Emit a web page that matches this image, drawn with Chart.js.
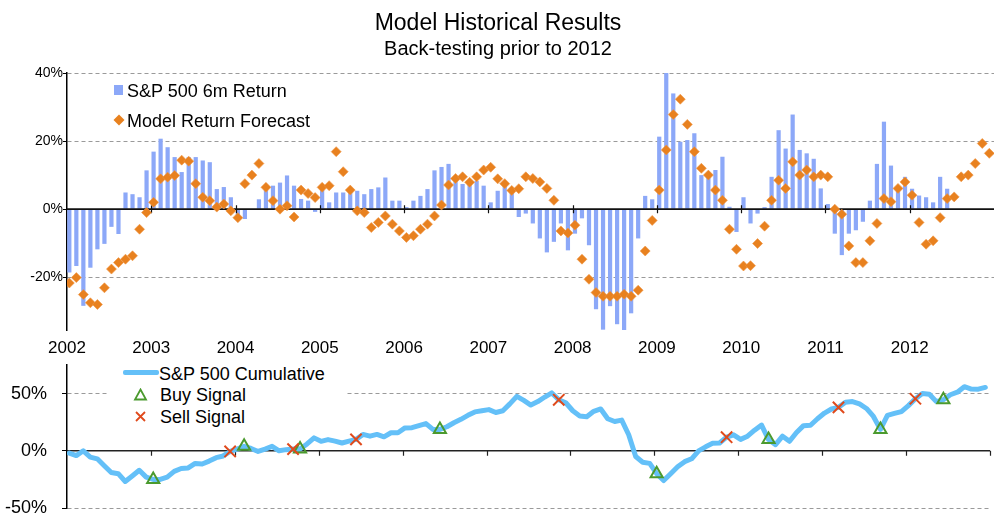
<!DOCTYPE html>
<html>
<head>
<meta charset="utf-8">
<script src="https://cdn.jsdelivr.net/npm/chart.js@4.4.1/dist/chart.umd.min.js"></script>
<style>
  body { margin: 0; background: #fff; font-family: "Liberation Sans", Arial, sans-serif; color: #000; }
  #wrap { position: relative; width: 1000px; height: 526px; overflow: hidden; }
  canvas { position: absolute; left: 0; display: block; }
  #topChart { top: 0; }
  #bottomChart { top: 355px; }
  .txt { position: absolute; white-space: nowrap; line-height: 1; }
  .title { font-size: 23px; left: 0; width: 996px; text-align: center; }
  .sub { font-size: 20px; left: 0; width: 996px; text-align: center; }
  .leg { font-size: 18px; }
  .box { position: absolute; background: #fff; }
</style>
</head>
<body>
<div id="wrap">
  <canvas id="topChart" width="1000" height="355"></canvas>
  <canvas id="bottomChart" width="1000" height="171"></canvas>

  <div class="txt title" style="top:11px">Model Historical Results</div>
  <div class="txt sub" style="top:38px">Back-testing prior to 2012</div>

  <!-- top legend -->
  <div class="box" style="left:114px; top:85px; width:9px; height:10px; background:#8ca8f8"></div>
  <div class="txt leg" style="left:127px; top:82px">S&amp;P 500 6m Return</div>
  <svg style="position:absolute; left:113px; top:114px" width="12" height="12"><polygon points="6,0.5 11.5,6 6,11.5 0.5,6" fill="#e8811f"/></svg>
  <div class="txt leg" style="left:127px; top:112px">Model Return Forecast</div>

  <!-- bottom legend -->
  <div class="box" style="left:108px; top:362px; width:239px; height:66px"></div>
  <div class="box" style="left:123px; top:370px; width:36px; height:5px; background:#64c0f8; border-radius:2px"></div>
  <div class="txt leg" style="left:159px; top:365px">S&amp;P 500 Cumulative</div>
  <svg style="position:absolute; left:133px; top:388px" width="15" height="14"><polygon points="7.5,1.5 13,11.5 2,11.5" fill="none" stroke="#4b9a2e" stroke-width="1.8"/></svg>
  <div class="txt leg" style="left:160px; top:386px">Buy Signal</div>
  <svg style="position:absolute; left:134px; top:410px" width="13" height="13"><path d="M2,2 L11,11 M11,2 L2,11" stroke="#e04a1c" stroke-width="1.8"/></svg>
  <div class="txt leg" style="left:160px; top:408px">Sell Signal</div>
</div>

<script>
// x axis: one slot per month, Jan 2002 = month 0
const yearLabels = ["2002", "2003", "2004", "2005", "2006", "2007", "2008", "2009", "2010", "2011", "2012"];
const yearStarts = [0, 12, 24, 36, 48, 60, 72, 84, 96, 108, 120, 132];

// S&P 500 6 month return (%), Jan 2002 .. Jun 2012
const sp6mReturn = [
  -18.6, -16.7, -28.4, -17.2, -11.8, -10.2, -5.2, -7.3, 4.9, 4.4, 3.5, 11.4,
  16.9, 20.7, 18.2, 15.3, 10.9, 15.3, 15.3, 14.3, 13.8, 5.9, 6.5, 3.5,
  -2.0, -2.9, 0, 2.9, 6.9, 6.9, 7.8, 9.9, 6.9, 3.0, 2.5, -0.8,
  6.1, 2.0, 4.9, 4.9, 5.1, 5.4, 4.4, 5.9, 6.4, 9.3, 2.5, 2.5,
  0.6, 2.5, 3.9, 5.9, 11.4, 12.4, 13.3, 8.3, 7.4, 8.3, 8.3, 6.9,
  2.0, 5.4, 6.9, 5.4, -2.3, -1.3, -4.2, -8.6, -12.7, -9.6, -4.2, -12.1,
  -7.2, -2.7, -10.6, -29.4, -35.4, -28.5, -33.8, -35.6, -30.6, -8.6, 3.9, 2.9,
  21.3, 40.2, 34.0, 19.8, 20.3, 22.3, 10.0, 9.5, 11.5, 15.4, 0.7, -6.7,
  3.5, -4.2, -1.3, 0.6, 9.5, 23.2, 17.8, 27.8, 17.4, 16.4, 14.8, 6.1,
  1.5, -7.2, -13.5, -7.2, -6.2, -3.7, 2.5, 13.3, 25.7, 12.8, 6.6, 9.5,
  6.0, 4.0, 3.5, 2.0, 9.5, 6.0
];

// Model return forecast (%), Jan 2002 .. Dec 2012
const modelForecast = [
  -21.7, -20.1, -25.1, -27.5, -28.0, -23.1, -17.6, -15.7, -14.7, -13.7, -5.9, -1.0,
  2.0, 8.9, 9.4, 9.9, 14.4, 14.1, 7.5, 3.5, 2.5, 0.6, 1.5, -0.5,
  -2.5, 7.5, 10.0, 13.4, 6.4, 2.5, 0, 1.0, -2.3, 5.6, 4.6, 3.4,
  6.4, 6.9, 16.9, 11.0, 5.6, -0.5, -1.0, -5.4, -3.9, -2.0, -4.4, -6.4,
  -8.3, -7.8, -5.9, -4.4, -2.0, 1.2, 7.1, 9.0, 9.5, 7.9, 9.5, 11.5,
  12.3, 8.9, 7.5, 5.5, 6.0, 9.5, 9.0, 8.0, 6.1, 2.6, -6.4, -7.0,
  -4.7, -14.7, -20.6, -24.5, -25.6, -25.6, -25.6, -25.0, -25.6, -23.8, -12.3, -3.3,
  5.6, 17.4, 27.8, 32.3, 24.9, 16.9, 12.0, 10.0, 5.6, 2.6, -5.9, -11.8,
  -16.7, -16.6, -10.1, -5.0, 2.6, 8.5, 6.1, 13.9, 10.0, 11.5, 9.5, 10.0,
  9.5, 0, -1.5, -10.8, -15.7, -15.7, -9.3, -4.2, 3.1, 2.2, 6.1, 8.0,
  4.1, -3.9, -10.3, -9.3, -2.5, 3.1, 3.6, 9.5, 10.0, 13.4, 19.3, 16.4
];

// S&P 500 cumulative return (%), Jan 2002 .. Dec 2012
const sp500Cumulative = [
  -2, -4.2, 0, -5.5, -7, -13, -19, -20, -26.8, -22, -17, -23,
  -25, -25, -23, -18, -15.5, -15, -11, -11.5, -9, -6, -4.5, -0.6,
  1.5, 3.9, 2, -0.6, 1.5, 3.9, 0, 1, 1.5, 1.5, 6, 11.3,
  8.3, 9.8, 8.5, 6.8, 8.5, 10, 14.3, 12.8, 14.3, 12.2, 15.8, 15.8,
  20, 20.2, 22, 23.8, 18.7, 18.7, 21, 24.5, 27.5, 31, 34, 35,
  36, 33.5, 35, 41, 47.6, 44, 40, 43, 47, 50.6, 44.6, 42,
  35, 30.5, 29.8, 34.5, 36.6, 28, 25.6, 26.8, 14, -5, -10, -11,
  -20, -26, -20, -14, -9.5, -7, 0, 3.5, 6.5, 6.8, 11.9, 14,
  10, 12.8, 18, 22.5, 9.8, 5.4, 12.8, 8.3, 16, 22, 22.3, 28,
  33, 36.5, 38, 42.5, 43, 41, 37, 30, 18.7, 31, 32.7, 34.3,
  39.5, 45.5, 50, 49.5, 43, 44.6, 49, 51.2, 56, 54, 53.9, 55.4
];

// months (index into sp500Cumulative) where the model signalled
const buyMonths = [12, 25, 33, 53, 84, 100, 116, 125];
const sellMonths = [23, 32, 41, 70, 94, 110, 121];

const topYTicks = [-20, 0, 20, 40];
const bottomYTicks = [-50, 0, 50];

// bars sit a little after the start of their month
const monthOffset = 0.33;
const toPoints = arr => arr.map((v, i) => ({ x: i + monthOffset, y: v }));
const signalPoints = months => months.map(m => ({ x: m + monthOffset, y: sp500Cumulative[m] }));

Chart.defaults.font.family = "'Liberation Sans', Arial, sans-serif";
Chart.defaults.color = "#000";

// solid zero line with year tick marks, drawn from the chart's own scales
function drawZeroAxis(chart, opts) {
  const { ctx, chartArea, scales: { x, y } } = chart;
  const y0 = y.getPixelForValue(0);
  ctx.save();
  ctx.strokeStyle = opts.color;
  ctx.lineWidth = 1.6;
  ctx.beginPath();
  ctx.moveTo(chartArea.left, y0);
  ctx.lineTo(chartArea.right, y0);
  ctx.stroke();
  ctx.lineWidth = 1.2;
  ctx.beginPath();
  x.ticks.forEach(t => {
    if (t.value <= x.min) return;
    const px = Math.round(x.getPixelForValue(t.value)) + 0.5;
    ctx.moveTo(px, y0 - opts.up);
    ctx.lineTo(px, y0 + opts.down);
  });
  ctx.stroke();
  ctx.restore();
}

const zeroAxis = {
  id: "zeroAxis",
  beforeDatasetsDraw(chart, args, opts) {
    if (opts.under) drawZeroAxis(chart, opts);
  },
  afterDatasetDraw(chart, args, opts) {
    if (!opts.under && args.meta.type === "bar") drawZeroAxis(chart, opts);
  }
};

const gridColor = ctx => (ctx.tick && ctx.tick.value === 0 ? "rgba(0,0,0,0)" : "#9a9a9a");

// fixed y axis width, no extra room reserved for the end labels
const fixYAxis = s => {
  s.width = 67;
  s.paddingTop = 0;
  s.paddingBottom = 0;
};

// Top chart: 6m return bars + forecast diamonds
new Chart(document.getElementById("topChart"), {
  type: "bar",
  data: {
    datasets: [
      {
        type: "bar",
        label: "S&P 500 6m Return",
        data: toPoints(sp6mReturn),
        backgroundColor: "#8ca8f8",
        barPercentage: 0.6,
        categoryPercentage: 1,
        order: 2
      },
      {
        type: "line",
        label: "Model Return Forecast",
        data: toPoints(modelForecast),
        showLine: false,
        pointStyle: "rectRot",
        pointRadius: 5,
        pointBackgroundColor: "#e8811f",
        pointBorderColor: "rgba(240,150,70,0.6)",
        pointBorderWidth: 1,
        order: 1
      }
    ]
  },
  options: {
    responsive: false,
    animation: false,
    layout: { padding: { top: 73, right: 3, left: 0, bottom: 0 } },
    plugins: {
      legend: { display: false },
      tooltip: { enabled: false },
      zeroAxis: { under: false, up: 4, down: 4, color: "#111" }
    },
    scales: {
      x: {
        type: "linear",
        min: 0,
        max: 132,
        offset: false,
        afterBuildTicks: s => { s.ticks = yearStarts.slice(0, yearLabels.length).map(v => ({ value: v })); },
        afterFit: s => { s.height = 25; },
        grid: { display: false, drawTicks: false, offset: false },
        border: { display: false },
        ticks: {
          padding: 8,
          font: { size: 17 },
          maxRotation: 0,
          callback: (v, i) => yearLabels[i]
        }
      },
      y: {
        min: -35.5,
        max: 40,
        afterBuildTicks: s => { s.ticks = topYTicks.map(v => ({ value: v })); },
        afterFit: fixYAxis,
        grid: { color: gridColor, tickColor: "#000", tickLength: 4, lineWidth: 1 },
        border: { color: "#000", width: 1.5, dash: [4, 3] },
        ticks: { padding: 0, font: { size: 14 }, callback: v => v + "%" }
      }
    }
  },
  plugins: [zeroAxis]
});

// Bottom chart: cumulative line with buy / sell signals
new Chart(document.getElementById("bottomChart"), {
  type: "line",
  data: {
    datasets: [
      {
        label: "Sell Signal",
        data: signalPoints(sellMonths),
        showLine: false,
        pointStyle: "crossRot",
        pointRadius: 8,
        pointBorderColor: "#e04a1c",
        pointBorderWidth: 2
      },
      {
        label: "Buy Signal",
        data: signalPoints(buyMonths),
        showLine: false,
        pointStyle: "triangle",
        pointRadius: 7,
        pointBackgroundColor: "rgba(0,0,0,0)",
        pointBorderColor: "#4b9a2e",
        pointBorderWidth: 2
      },
      {
        label: "S&P 500 Cumulative",
        data: toPoints(sp500Cumulative),
        borderColor: "#64c0f8",
        borderWidth: 5,
        borderJoinStyle: "round",
        borderCapStyle: "round",
        pointRadius: 0,
        tension: 0
      }
    ]
  },
  options: {
    responsive: false,
    animation: false,
    layout: { padding: { top: 10, right: 3, left: 0, bottom: 0 } },
    plugins: {
      legend: { display: false },
      tooltip: { enabled: false },
      zeroAxis: { under: true, up: 0, down: 5, color: "#222" }
    },
    scales: {
      x: {
        type: "linear",
        min: 0,
        max: 132,
        afterBuildTicks: s => { s.ticks = yearStarts.slice(1).map(v => ({ value: v })); },
        afterFit: s => { s.height = 18; },
        grid: { display: false, drawTicks: false },
        border: { display: false },
        ticks: { display: false }
      },
      y: {
        min: -50,
        max: 75,
        afterBuildTicks: s => { s.ticks = bottomYTicks.map(v => ({ value: v })); },
        afterFit: fixYAxis,
        grid: { color: gridColor, tickColor: "#000", tickLength: 5, lineWidth: 1 },
        border: { color: "#000", width: 1.5, dash: [4, 3] },
        ticks: { padding: 15, font: { size: 18 }, callback: v => v + "%" }
      }
    }
  },
  plugins: [zeroAxis]
});
</script>
</body>
</html>
